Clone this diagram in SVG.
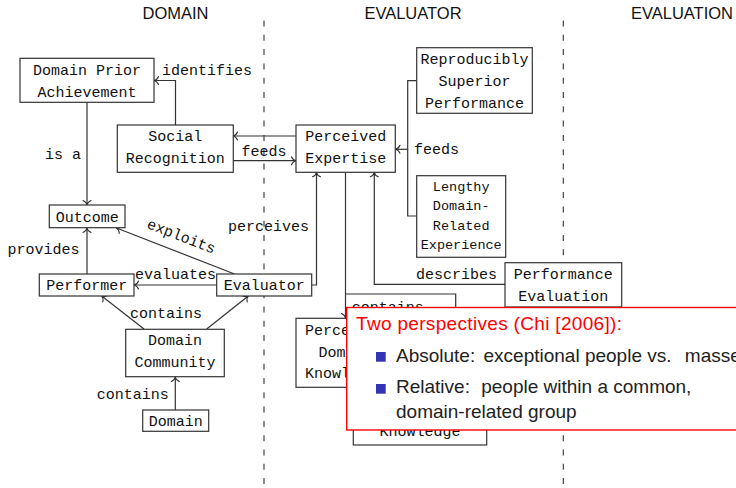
<svg xmlns="http://www.w3.org/2000/svg" width="736" height="488" viewBox="0 0 736 488">
  <style>
    .hdr { font-family: "Liberation Sans", Arial, sans-serif; font-size: 16.5px; fill: #111; text-anchor: middle; }
    .box { fill: #fff; stroke: #333; stroke-width: 1.2; }
    .tt { font-family: "Liberation Mono", "Courier New", monospace; font-size: 15px; fill: #111; }
    .ttc { text-anchor: middle; }
    .small { font-size: 13.5px; }
    .edge { fill: none; stroke: #333; stroke-width: 1.2; }
    .arr { marker-end: url(#arrow); }
    .lane { stroke: #333; stroke-width: 1.1; stroke-dasharray: 6 8.3; }
    .note { fill: #fff; stroke: #ff0000; stroke-width: 1.4; }
    .nt { font-family: "Liberation Sans", Arial, sans-serif; font-size: 19px; fill: #222; }
    .ntitle { fill: #ff0000; }
    .bullet { fill: #3333b3; }
  </style>
  <defs>
    <marker id="arrow" markerUnits="userSpaceOnUse" markerWidth="10" markerHeight="10" orient="auto" overflow="visible">
      <path d="M-4.5,-4 C-3.5,-1.6 -1.5,-0.3 0,0 C-1.5,0.3 -3.5,1.6 -4.5,4" fill="none" stroke="#333" stroke-width="1.1" stroke-linecap="round"/>
    </marker>
  </defs>

  <rect width="736" height="488" fill="#fff"/>

  <!-- column headings and separators -->
  <g id="lanes">
    <text class="hdr" x="175.5" y="19">DOMAIN</text>
    <text class="hdr" x="413" y="19">EVALUATOR</text>
    <text class="hdr" x="682" y="19">EVALUATION</text>
    <line class="lane" x1="264" y1="20.5" x2="264" y2="488"/>
    <line class="lane" x1="563.3" y1="20.5" x2="563.3" y2="488"/>
  </g>

  <!-- connectors and their labels -->
  <g id="connectors">
    <path class="edge arr" d="M175.5,125 V80.5 H154"/>
    <text class="tt" x="162" y="75">identifies</text>

    <path class="edge arr" d="M87,102 V205"/>
    <text class="tt" x="45" y="158.5">is a</text>

    <path class="edge arr" d="M296,136 H233"/>
    <path class="edge arr" d="M233,160.7 H296"/>
    <text class="tt ttc" x="264" y="155.5">feeds</text>

    <path class="edge" d="M416,80.7 H407.7 V216 H416.5"/>
    <path class="edge arr" d="M407.7,149.3 H395.5"/>
    <text class="tt" x="414" y="154">feeds</text>

    <path class="edge arr" d="M87,274 V228"/>
    <text class="tt" x="7.5" y="253.5">provides</text>

    <path class="edge arr" d="M234.5,274 L116.5,228"/>
    <text class="tt ttc" transform="translate(181,237) rotate(21.3)" x="0" y="4">exploits</text>

    <path class="edge arr" d="M217,285 H134"/>
    <text class="tt" x="135" y="279">evaluates</text>

    <path class="edge arr" d="M312,285 H316.5 V172.3"/>
    <text class="tt" x="228" y="231">perceives</text>

    <path class="edge arr" d="M144,329 L101.7,296"/>
    <path class="edge arr" d="M206.7,329 L248.3,296"/>
    <text class="tt" x="130" y="317.5">contains</text>

    <path class="edge arr" d="M175.3,410 V377"/>
    <text class="tt" x="96.7" y="398.5">contains</text>

    <path class="edge arr" d="M345.5,172.3 V318"/>
    <path class="edge arr" d="M345.5,294 H455.7 V380"/>
    <text class="tt" x="351.7" y="311.5">contains</text>

    <path class="edge arr" d="M505,284.3 H374.3 V172.3"/>
    <text class="tt" x="416" y="278.5">describes</text>
  </g>

  <!-- nodes -->
  <g id="domain-prior-achievement">
    <rect class="box" x="20" y="58.3" width="134" height="44"/>
    <text class="tt ttc" x="87" y="75">Domain Prior</text>
    <text class="tt ttc" x="87" y="97">Achievement</text>
  </g>
  <g id="social-recognition">
    <rect class="box" x="117.3" y="125" width="116" height="47.3"/>
    <text class="tt ttc" x="175.3" y="141.3">Social</text>
    <text class="tt ttc" x="175.3" y="162.7">Recognition</text>
  </g>
  <g id="perceived-expertise">
    <rect class="box" x="296" y="125" width="99.3" height="47.3"/>
    <text class="tt ttc" x="345.7" y="141">Perceived</text>
    <text class="tt ttc" x="345.7" y="162.7">Expertise</text>
  </g>
  <g id="reproducibly-superior-performance">
    <rect class="box" x="416.7" y="47.7" width="115.6" height="65.6"/>
    <text class="tt ttc" x="474.5" y="64.3">Reproducibly</text>
    <text class="tt ttc" x="474.5" y="86">Superior</text>
    <text class="tt ttc" x="474.5" y="107.8">Performance</text>
  </g>
  <g id="lengthy-experience">
    <rect class="box" x="416.7" y="175.7" width="89" height="81.6"/>
    <text class="tt ttc small" x="461.2" y="190.8">Lengthy</text>
    <text class="tt ttc small" x="461.2" y="210.3">Domain-</text>
    <text class="tt ttc small" x="461.2" y="229.7">Related</text>
    <text class="tt ttc small" x="461.2" y="249">Experience</text>
  </g>
  <g id="outcome">
    <rect class="box" x="49.3" y="205" width="75.7" height="22.7"/>
    <text class="tt ttc" x="87.2" y="221.7">Outcome</text>
  </g>
  <g id="performer">
    <rect class="box" x="39.3" y="274" width="94.7" height="22"/>
    <text class="tt ttc" x="86.7" y="290">Performer</text>
  </g>
  <g id="evaluator">
    <rect class="box" x="216.7" y="274" width="95" height="22"/>
    <text class="tt ttc" x="264.2" y="290">Evaluator</text>
  </g>
  <g id="domain-community">
    <rect class="box" x="125.7" y="329.3" width="98.6" height="47.4"/>
    <text class="tt ttc" x="175" y="345">Domain</text>
    <text class="tt ttc" x="175" y="366.5">Community</text>
  </g>
  <g id="domain">
    <rect class="box" x="142.7" y="410" width="66" height="21.3"/>
    <text class="tt ttc" x="175.7" y="425.7">Domain</text>
  </g>
  <g id="performance-evaluation">
    <rect class="box" x="505" y="262.7" width="116.7" height="44.3"/>
    <text class="tt ttc" x="563.3" y="278.5">Performance</text>
    <text class="tt ttc" x="563.3" y="300.5">Evaluation</text>
  </g>
  <g id="perceived-domain-knowledge">
    <rect class="box" x="296" y="318.3" width="99.3" height="69"/>
    <text class="tt ttc" x="345.5" y="335.3">Perceived</text>
    <text class="tt ttc" x="345.5" y="356.5">Domain</text>
    <text class="tt ttc" x="345.5" y="377.5">Knowledge</text>
  </g>
  <g id="knowledge">
    <rect class="box" x="353.3" y="380" width="133.4" height="65"/>
    <text class="tt ttc" x="420" y="435.5">Knowledge</text>
  </g>

  <!-- callout box laid over the diagram -->
  <g id="perspectives-note">
    <rect class="note" x="346.7" y="307.5" width="400" height="122.5"/>
    <text class="nt ntitle" x="356" y="330" textLength="266">Two perspectives (Chi [2006]):</text>
    <rect class="bullet" x="376" y="352" width="9.7" height="9.7"/>
    <text class="nt" x="396" y="362.3">Absolute:<tspan dx="3"> exceptional people vs.</tspan><tspan dx="8"> masses</tspan></text>
    <rect class="bullet" x="376" y="384" width="9.7" height="9.7"/>
    <text class="nt" x="396" y="393.3">Relative:<tspan dx="6"> people within a common,</tspan></text>
    <text class="nt" x="396" y="418.3">domain-related group</text>
  </g>
</svg>
